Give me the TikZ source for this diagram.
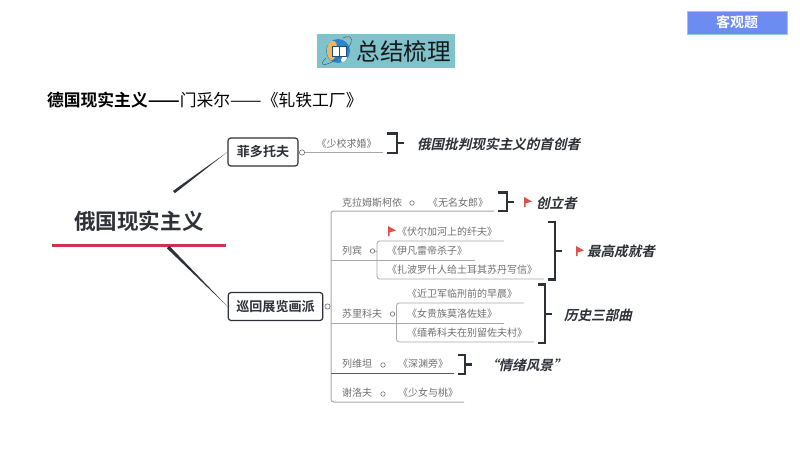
\documentclass[tikz,border=0pt]{standalone}
\usepackage{fontspec}
\usepackage{graphicx}
\usetikzlibrary{calc}
\setmainfont{Noto Sans CJK SC}
\newfontfamily\cjkslant[FakeSlant=0.22]{Noto Sans CJK SC Bold}
\newfontfamily\cjkheavy{Noto Sans CJK SC Bold}
\definecolor{inkdark}{HTML}{2E3138}
\definecolor{leafgrey}{HTML}{707070}
\definecolor{rulegrey}{HTML}{A8A8A8}
\definecolor{flagred}{HTML}{E0504A}
\definecolor{mainred}{HTML}{CB3350}
\definecolor{tagblue}{HTML}{6C8CF2}
\definecolor{titleteal}{HTML}{7FC3CC}
\definecolor{globeblue}{HTML}{2E86C8}
\definecolor{globeorange}{HTML}{F4B35E}
\tikzset{
  x=0.75pt,y=-0.75pt,
  txt/.style={inner sep=0pt,outer sep=0pt,anchor=west},
  leaf/.style={txt,text=leafgrey,font=\fontsize{7.5}{9}\selectfont},
  note/.style={txt,text=inkdark,font=\fontsize{10.2}{12}\cjkslant},
  topic/.style={draw=inkdark,line width=0.9pt,rounded corners=2.2pt,fill=white,text=inkdark,inner sep=0pt,
     font=\fontsize{9.8}{12}\cjkheavy,minimum height=21pt},
  hub/.style={circle,draw=leafgrey,fill=white,line width=0.45pt,inner sep=0pt,minimum size=4pt},
  limb/.style={draw=rulegrey,line width=0.75pt},
  darklimb/.style={draw=inkdark!80,line width=0.75pt},
  brace/.style={draw=inkdark,line width=1.7pt,line cap=butt},
  flagmark/.style={fill=flagred},
}
\newcommand{\flagat}[2]{\fill[flagmark] (#1,#2-5) -- (#1+8,#2-0.5) -- (#1+1.5,#2+1.5) -- (#1+1.5,#2+5) -- (#1,#2+5) -- cycle;}
\newcommand{\bracketat}[5]{% name, xleft, ytop, ybottom, xbar
  \coordinate (#1t) at (#2,#3);
  \coordinate (#1b) at (#2,#4);
  \coordinate (#1m) at (#5+7,{(#3+#4)/2});
  \draw[brace] (#1t) -- (#5,#3) -- (#5,#4) -- (#1b);
  \draw[brace] (#5,{(#3+#4)/2}) -- (#1m);
}
\newcommand{\longdash}{\scalebox{1.12}[1]{——}}
\begin{document}
\begin{tikzpicture}
\useasboundingbox[fill=white] (0,0) rectangle (800,450);

% top tag
\node[fill=tagblue,draw=tagblue!70!green!60!white,line width=0.4pt,minimum width=75pt,minimum height=17.2pt,inner sep=0pt,
  text=white,font=\fontsize{10.5}{12}\cjkheavy] (tag) at (737,22.5) {客观题};

% title banner
\node[fill=titleteal,minimum width=103.5pt,minimum height=25.5pt,inner sep=0pt] (banner) at (386,51) {};
\node[txt,text=black!90,font=\fontsize{17.7}{20}\selectfont] (bannertext) at (356.5,51.5) {总结梳理};
\fill[globeblue] (338,51) circle (12);
\fill[globeorange] (331,41) .. controls (338,40) and (337,46) .. (336,50)
   .. controls (336,56) and (334,61) .. (331,60) .. controls (326,57) and (325,46) .. (331,41) -- cycle;
\fill[white] (343,56) .. controls (348,55) and (348,58) .. (345,61) .. controls (342,63) and (339,62) .. (343,56) -- cycle;
\draw[black!70,line width=0.3pt] (326,58) .. controls (318,66) and (324,66) .. (332,62)
   .. controls (342,57) and (356,42) .. (350,37) .. controls (348,36) and (345,37) .. (343,38);
\draw[fill=white,draw=globeblue!60!black,line width=0.3pt] (332,46) -- (339,46) -- (339,56) -- (332,56) -- cycle;
\draw[fill=white,draw=globeblue!60!black,line width=0.3pt] (339,46) -- (346,46) -- (346,56) -- (339,56) -- cycle;

% heading
\node[txt,text=black,font=\fontsize{12.6}{15}\selectfont] (heading) at (47,100)
  {{\cjkheavy 德国现实主义\longdash}门采尔\longdash 《轧铁工厂》};

% central topic
\node[txt,text=inkdark,font=\fontsize{16.2}{19}\cjkheavy] (main) at (74,221) {俄国现实主义};
\draw[mainred,line width=2.7pt] (52,245.5) -- (226,245.5);

% level one
\node[topic,minimum width=52.5pt] (fei) at (263,152) {菲多托夫};
\node[topic,minimum width=71pt] (xun) at (275.5,306.5) {巡回展览画派};
\coordinate (feistart) at (174,192);
\coordinate (xunstart) at (168,247);
\fill[inkdark] ($(feistart)+(-1.1,-1.0)$) -- (fei.west) -- ($(feistart)+(1.0,1.1)$) -- cycle;
\fill[inkdark] ($(xunstart)+(-1.2,1.2)$) -- (xun.west) -- ($(xunstart)+(1.2,-1.2)$) -- cycle;

% fei branch
\node[hub] (feihub) at (302,152.5) {};
\coordinate (feiend) at (383,152.5);
\draw[limb] (feihub) -- (feiend);
\node[leaf] (shaoxiao) at (316.5,143.5) {《少校求婚》};
\bracketat{ba}{387}{133.5}{153}{397}
\node[note] (shouchuang) at (417,144) {俄国批判现实主义的首创者};

% xun trunk
\node[hub] (xunhub) at (327.5,306.5) {};
\coordinate (v1) at (331,211);
\coordinate (v2) at (331,260);
\coordinate (v3) at (331,323);
\coordinate (v4) at (331,373);
\coordinate (v5) at (331,402);
\draw[limb,rounded corners=2pt] (494,211) -- (v1) -- (v5) -- (464,402);
\draw[limb] (v2) -- (475,260);
\draw[limb] (v3) -- (504,323);
\draw[darklimb] (v4) -- (454,373);
\draw[limb] (xunhub) -- (331,306.5);

% row 1
\node[leaf] (kelam) at (342,202.5) {克拉姆斯柯依};
\node[hub,minimum size=3.4pt] (h1) at (412,203) {};
\node[leaf] (wuming) at (428,203) {《无名女郎》};
\bracketat{bb}{498}{192.5}{211}{507}
\flagat{524}{202}
\node[note] (chuangli) at (536,203) {创立者};

% row 2 repin
\node[leaf] (liebin) at (342,251) {列宾};
\node[hub,minimum size=3.4pt] (h2) at (372.5,251) {};
\coordinate (r2a) at (377,241);
\coordinate (r2b) at (377,260);
\coordinate (r2c) at (377,279);
\draw[limb,line width=0.6pt,rounded corners=2pt] (504,241) -- (r2a) -- (r2c) -- (544,279);
\draw[limb,line width=0.6pt] (h2) -- (r2b |- h2);
\flagat{388}{231}
\node[leaf] (volga) at (397,232) {《伏尔加河上的纤夫》};
\node[leaf] (ivan) at (387,251) {《伊凡雷帝杀子》};
\node[leaf] (zapo) at (387,270) {《扎波罗什人给土耳其苏丹写信》};
\bracketat{bc}{548}{222}{279.5}{555}
\flagat{576}{251}
\node[note] (zuigao) at (587,251) {最高成就者};

% row 3 surikov
\node[leaf] (suli) at (342,314) {苏里科夫};
\node[hub,minimum size=3.4pt] (h3) at (392.5,314) {};
\coordinate (r3a) at (396.5,303);
\coordinate (r3c) at (396.5,342);
\draw[limb,line width=0.6pt,rounded corners=2pt] (524,303) -- (r3a) -- (r3c) -- (534,342);
\node[leaf] (jinwei) at (407,294) {《近卫军临刑前的早晨》};
\node[leaf] (nvgui) at (407,314) {《女贵族莫洛佐娃》};
\node[leaf] (mianxi) at (407,333) {《缅希科夫在别留佐夫村》};
\bracketat{bd}{538}{284.5}{343}{545}
\node[note] (lishi) at (564,315) {历史三部曲};

% row 4 levitan
\node[leaf] (liewei) at (342,364) {列维坦};
\node[hub,minimum size=3.4pt] (h4) at (383,365) {};
\node[leaf] (shenyuan) at (398,364) {《深渊旁》};
\bracketat{be}{458}{355}{374}{465}
\node[note] (qingxu) at (485,365) {“情绪风景”};

% row 5 serov
\node[leaf] (xieluo) at (342,393) {谢洛夫};
\node[hub,minimum size=3.4pt] (h5) at (383,394) {};
\node[leaf] (shaonv) at (398,393) {《少女与桃》};
\end{tikzpicture}
\end{document}
